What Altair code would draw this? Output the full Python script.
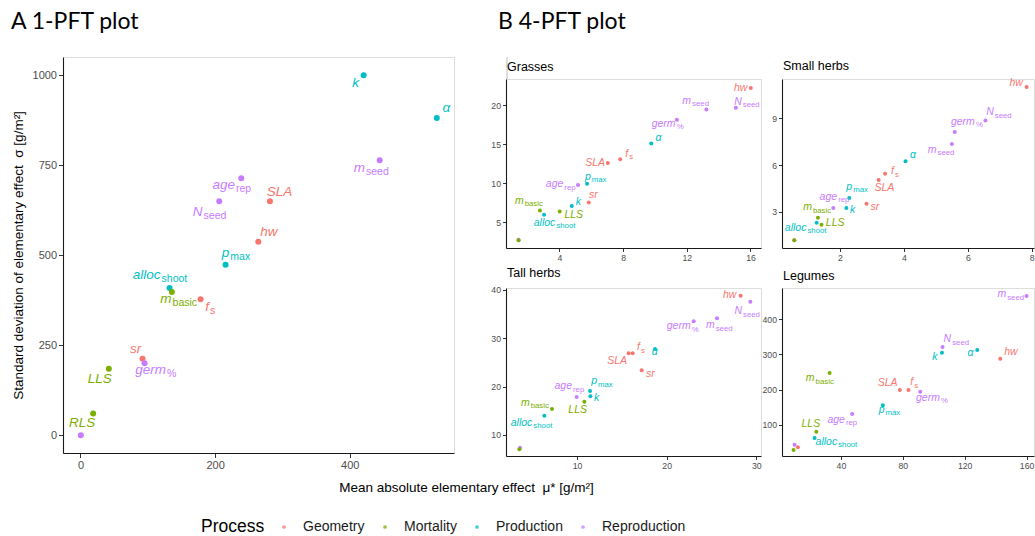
import altair as alt
import pandas as pd

FONT = "Liberation Sans"
PROCESSES = ["Geometry", "Mortality", "Production", "Reproduction"]
COLORS = ["#F8766D", "#7CAE00", "#00BFC4", "#C77CFF"]

# parameters (draw order), their process and label parts
PARAMS = ["r0", "k", "alpha", "p_max", "alloc_shoot", "SLA", "hw", "f_s", "sr",
          "m_basic", "LLS", "RLS", "m_seed", "age_rep", "N_seed", "germ"]
PROCESS = ["Reproduction", "Production", "Production", "Production", "Production",
           "Geometry", "Geometry", "Geometry", "Geometry", "Mortality", "Mortality",
           "Mortality", "Reproduction", "Reproduction", "Reproduction", "Reproduction"]
MAIN = ["", "k", "α", "p", "alloc", "SLA", "hw", "f", "sr", "m", "LLS", "RLS",
        "m", "age", "N", "germ"]
SUB = ["", "", "", "max", "shoot", "", "", "s", "", "basic", "", "", "seed", "rep",
       "seed", "%"]

# A: 1-PFT plot
A_X = [0.5, 420.8, 529.4, 215.6, 132.3, 281.5, 264.2, 178.4, 92.2, 135.8, 42.1, 18.8,
       444.6, 238.9, 206.2, 95.2]
A_Y = [0, 1000, 881.5, 474, 409, 650, 538, 377.8, 213, 398, 185, 61, 763.9, 713.9,
       650, 200]
A_LX = [None, 413.9, 549.2, 221.1, 119.0, 314.7, 292.9, 190.8, 90.2, 135.3, 46.6, 21.8,
        422.8, 229.5, 181.4, 126.9]
A_LY = [None, 967.6, 898.1, 496.3, 433.3, 664.8, 553.7, 345.4, 229.6, 366.7, 146.3,
        23.1, 732.4, 683.3, 610.2, 169.4]

# B: Grasses
G_X = [1.44, 4.78, 9.77, 5.74, 3.04, 7.04, 16.02, 7.82, 5.85, 2.78, 4.02, 1.44, 13.23,
       5.17, 15.08, 11.38]
G_Y = [2.72, 7.08, 15.11, 9.93, 5.93, 12.61, 22.25, 13.07, 7.51, 6.49, 6.36, 2.66,
       19.49, 9.76, 19.70, 18.17]
G_LX = [None, 5.36, 10.42, 5.97, 3.75, 6.87, 15.81, 8.32, 6.41, 1.76, 5.49, None,
        12.27, 4.25, 15.45, 11.30]
G_LY = [None, 7.17, 15.41, 10.44, 4.49, 12.27, 21.91, 13.41, 8.10, 7.34, 5.47, None,
        20.21, 9.46, 20.08, 17.24]

# B: Small herbs
S_X = [0.57, 2.20, 4.05, 2.29, 1.27, 3.21, 7.84, 3.41, 2.83, 1.31, 1.42, 0.57, 5.50,
       1.79, 6.55, 5.59]
S_Y = [1.16, 3.24, 6.24, 3.88, 2.29, 5.04, 11.01, 5.44, 3.51, 2.61, 2.16, 1.16, 7.35,
       3.24, 8.87, 8.12]
S_LX = [None, 2.48, 4.38, 2.38, 0.95, 3.70, 7.72, 3.69, 3.23, 1.12, 2.14, None, 5.02,
        1.91, 6.81, 6.22]
S_LY = [None, 2.94, 6.43, 4.39, 1.76, 4.33, 11.08, 5.40, 3.09, 3.09, 2.10, None, 6.79,
        3.75, 9.19, 8.57]

# B: Tall herbs
T_X = [3.64, 11.49, 18.70, 11.45, 6.36, 15.76, 28.25, 16.21, 17.21, 7.21, 10.82, 3.57,
       25.61, 9.96, 29.33, 23.01]
T_Y = [7.35, 18.0, 27.8, 19.10, 14.0, 26.90, 38.83, 26.90, 23.38, 15.38, 16.90, 7.03,
       34.14, 17.86, 37.59, 33.52]
T_LX = [None, 12.49, 19.0, 12.23, 5.02, 15.58, 27.77, 17.03, 18.66, 4.72, 11.12, None,
        25.35, 9.44, 28.40, 22.68]
T_LY = [None, 17.03, 26.55, 20.48, 11.86, 24.62, 38.28, 27.52, 22.0, 16.0, 14.62, None,
        32.07, 19.45, 34.97, 31.86]

# B: Legumes
L_X = [10.06, 105.3, 128.1, 67.1, 23.0, 78.1, 143.0, 83.7, 12.2, 32.7, 24.1, 9.4,
       160.0, 47.3, 105.7, 91.3]
L_Y = [43.0, 305.1, 312.7, 155.1, 62.0, 198.7, 288.0, 198.7, 35.4, 247.1, 80.0, 27.8,
       466.5, 130.4, 321.2, 194.0]
L_LX = [None, 102.5, 125.7, 68.2, 37.6, 76.6, 154.2, 86.7, None, 23.0, 26.6, None,
        146.85, 42.6, 111.3, 104.0]
L_LY = [None, 284.2, 296.5, 133.2, 43.0, 209.2, 299.4, 212.0, None, 223.4, 92.4, None,
        462.7, 104.7, 334.5, 168.3]


def make_df(xs, ys, lxs, lys):
    return pd.DataFrame({"param": PARAMS, "process": PROCESS, "main": MAIN, "sub": SUB,
                         "x": xs, "y": ys, "lx": lxs, "ly": lys,
                         "order": list(range(len(PARAMS)))})


def panel(df, xdom, ydom, xticks, yticks, w, h, title, pt_size, main_fs, sub_fs,
          sub_dy, lab_fs, tick, xaxis_extra=None, yaxis_extra=None, legend=None):
    ax_common = dict(grid=False, tickSize=tick, labelFontSize=lab_fs, labelFont=FONT,
                     labelColor="#4d4d4d", tickColor="#333333", domainColor="#1a1a1a",
                     domainWidth=1.1, tickWidth=1, labelPadding=2, labelFlush=False,
                     labelOverlap=False, format="d")
    xa = dict(ax_common, values=xticks, title=None)
    ya = dict(ax_common, values=yticks, title=None)
    if xaxis_extra:
        xa.update(xaxis_extra)
    if yaxis_extra:
        ya.update(yaxis_extra)
    xs = alt.Scale(domain=xdom, nice=False, zero=False)
    ys = alt.Scale(domain=ydom, nice=False, zero=False)
    cscale = alt.Scale(domain=PROCESSES, range=COLORS)
    base = alt.Chart(df)
    pts = base.mark_circle(size=pt_size, opacity=1).encode(
        x=alt.X("x:Q", scale=xs, axis=alt.Axis(**xa)),
        y=alt.Y("y:Q", scale=ys, axis=alt.Axis(**ya)),
        color=alt.Color("process:N", scale=cscale, legend=legend),
        order="order:Q",
    )
    lbl = base.transform_filter("isValid(datum.lx)").mark_text(
        align="right", baseline="alphabetic", fontStyle="italic", fontSize=main_fs,
        font=FONT).encode(
        x=alt.X("lx:Q", scale=xs, axis=alt.Axis(**xa)),
        y=alt.Y("ly:Q", scale=ys, axis=alt.Axis(**ya)),
        text="main:N",
        color=alt.Color("process:N", scale=cscale, legend=None),
    )
    sub = base.transform_filter("isValid(datum.lx) && datum.sub != ''").mark_text(
        align="left", baseline="alphabetic", dx=1, dy=sub_dy, fontSize=sub_fs,
        font=FONT).encode(
        x=alt.X("lx:Q", scale=xs, axis=alt.Axis(**xa)),
        y=alt.Y("ly:Q", scale=ys, axis=alt.Axis(**ya)),
        text="sub:N",
        color=alt.Color("process:N", scale=cscale, legend=None),
    )
    return alt.layer(pts, lbl, sub).properties(width=w, height=h, title=title)


def ptitle(text):
    return alt.TitleParams(text=text, anchor="start", frame="group", fontSize=12.5,
                           font=FONT, fontWeight="normal", color="#000000", offset=6,
                           dx=1, limit=400)


legend = alt.Legend(title="Process", orient="none", legendX=138, legendY=463,
                    direction="horizontal", titleOrient="left", titleFontSize=17.5,
                    titleFontWeight="normal", titleFont=FONT, titleColor="#000000",
                    labelFontSize=14, labelFont=FONT, labelColor="#1a1a1a",
                    symbolType="circle", symbolSize=14, labelOffset=12,
                    columnPadding=13, titlePadding=12, symbolOpacity=0.75)

a_title = alt.TitleParams(text="A 1-PFT plot", anchor="start", frame="group",
                          font="Lato", fontSize=23, fontWeight="normal",
                          color="#000000", offset=23, dx=-52, limit=400)

panelA = panel(make_df(A_X, A_Y, A_LX, A_LY), [-26, 555], [-49, 1051], [0, 200, 400],
               [0, 250, 500, 750, 1000], 391, 396, a_title, 36, 13.5, 10.5, 3, 11, 4.5,
               xaxis_extra=dict(title="Mean absolute elementary effect\u00a0 μ* [g/m²]",
                                titleX=403, titleY=38, titleAlign="center",
                                titleBaseline="alphabetic", titleFontSize=13.5,
                                titleFont=FONT, titleFontWeight="normal",
                                titleColor="#000000"),
               yaxis_extra=dict(title="Standard deviation of elementary effect\u00a0 σ [g/m²]",
                                titleX=-41, titleY=198, titleAngle=270,
                                titleAlign="center", titleBaseline="alphabetic",
                                titleFontSize=13.5, titleFont=FONT,
                                titleFontWeight="normal", titleColor="#000000"),
               legend=legend)

pG = panel(make_df(G_X, G_Y, G_LX, G_LY), [0.65, 16.66], [1.67, 23.4], [4, 8, 12, 16],
           [5, 10, 15, 20], 255, 169, ptitle("Grasses"), 16, 10.5, 7.8, 2.3, 8.7, 3.5)
pS = panel(make_df(S_X, S_Y, S_LX, S_LY), [0.185, 8.07], [0.67, 11.53], [2, 4, 6, 8],
           [3, 6, 9], 252, 169, ptitle("Small herbs"), 16, 10.5, 7.8, 2.3, 8.7, 3.5)
pT = panel(make_df(T_X, T_Y, T_LX, T_LY), [2.08, 30.52], [5.65, 40.41], [10, 20, 30],
           [10, 20, 30, 40], 255, 168, ptitle("Tall herbs"), 16, 10.5, 7.8, 2.3, 8.7, 3.5)
pL = panel(make_df(L_X, L_Y, L_LX, L_LY), [1.94, 164.8], [10.8, 489.2],
           [40, 80, 120, 160], [100, 200, 300, 400], 252, 168, ptitle("Legumes"), 16,
           10.5, 7.8, 2.3, 8.7, 3.5)

b_title = alt.TitleParams(text="B 4-PFT plot", anchor="start", frame="group",
                          font="Lato", fontSize=23, fontWeight="normal",
                          color="#000000", offset=23, dx=-8, limit=400)
spacer = alt.Chart(pd.DataFrame({"v": [0]})).mark_point(opacity=0).encode(
    x=alt.X("v:Q", axis=None), y=alt.Y("v:Q", axis=None)
).properties(width=1, height=22, title=b_title)

grid = alt.concat(pG, pS, pT, pL, columns=2, spacing={"row": 40, "column": 21},
                  bounds="flush")
panelB = alt.vconcat(spacer, grid, spacing=0, bounds="flush")

chart = alt.hconcat(panelA, panelB, spacing=52, bounds="flush").properties(
    padding={"left": 10, "top": 10, "right": 0, "bottom": 0}
).configure_view(stroke=None).configure(font=FONT)

chart.save("out.html", embed_options={"renderer": "svg", "actions": False})
